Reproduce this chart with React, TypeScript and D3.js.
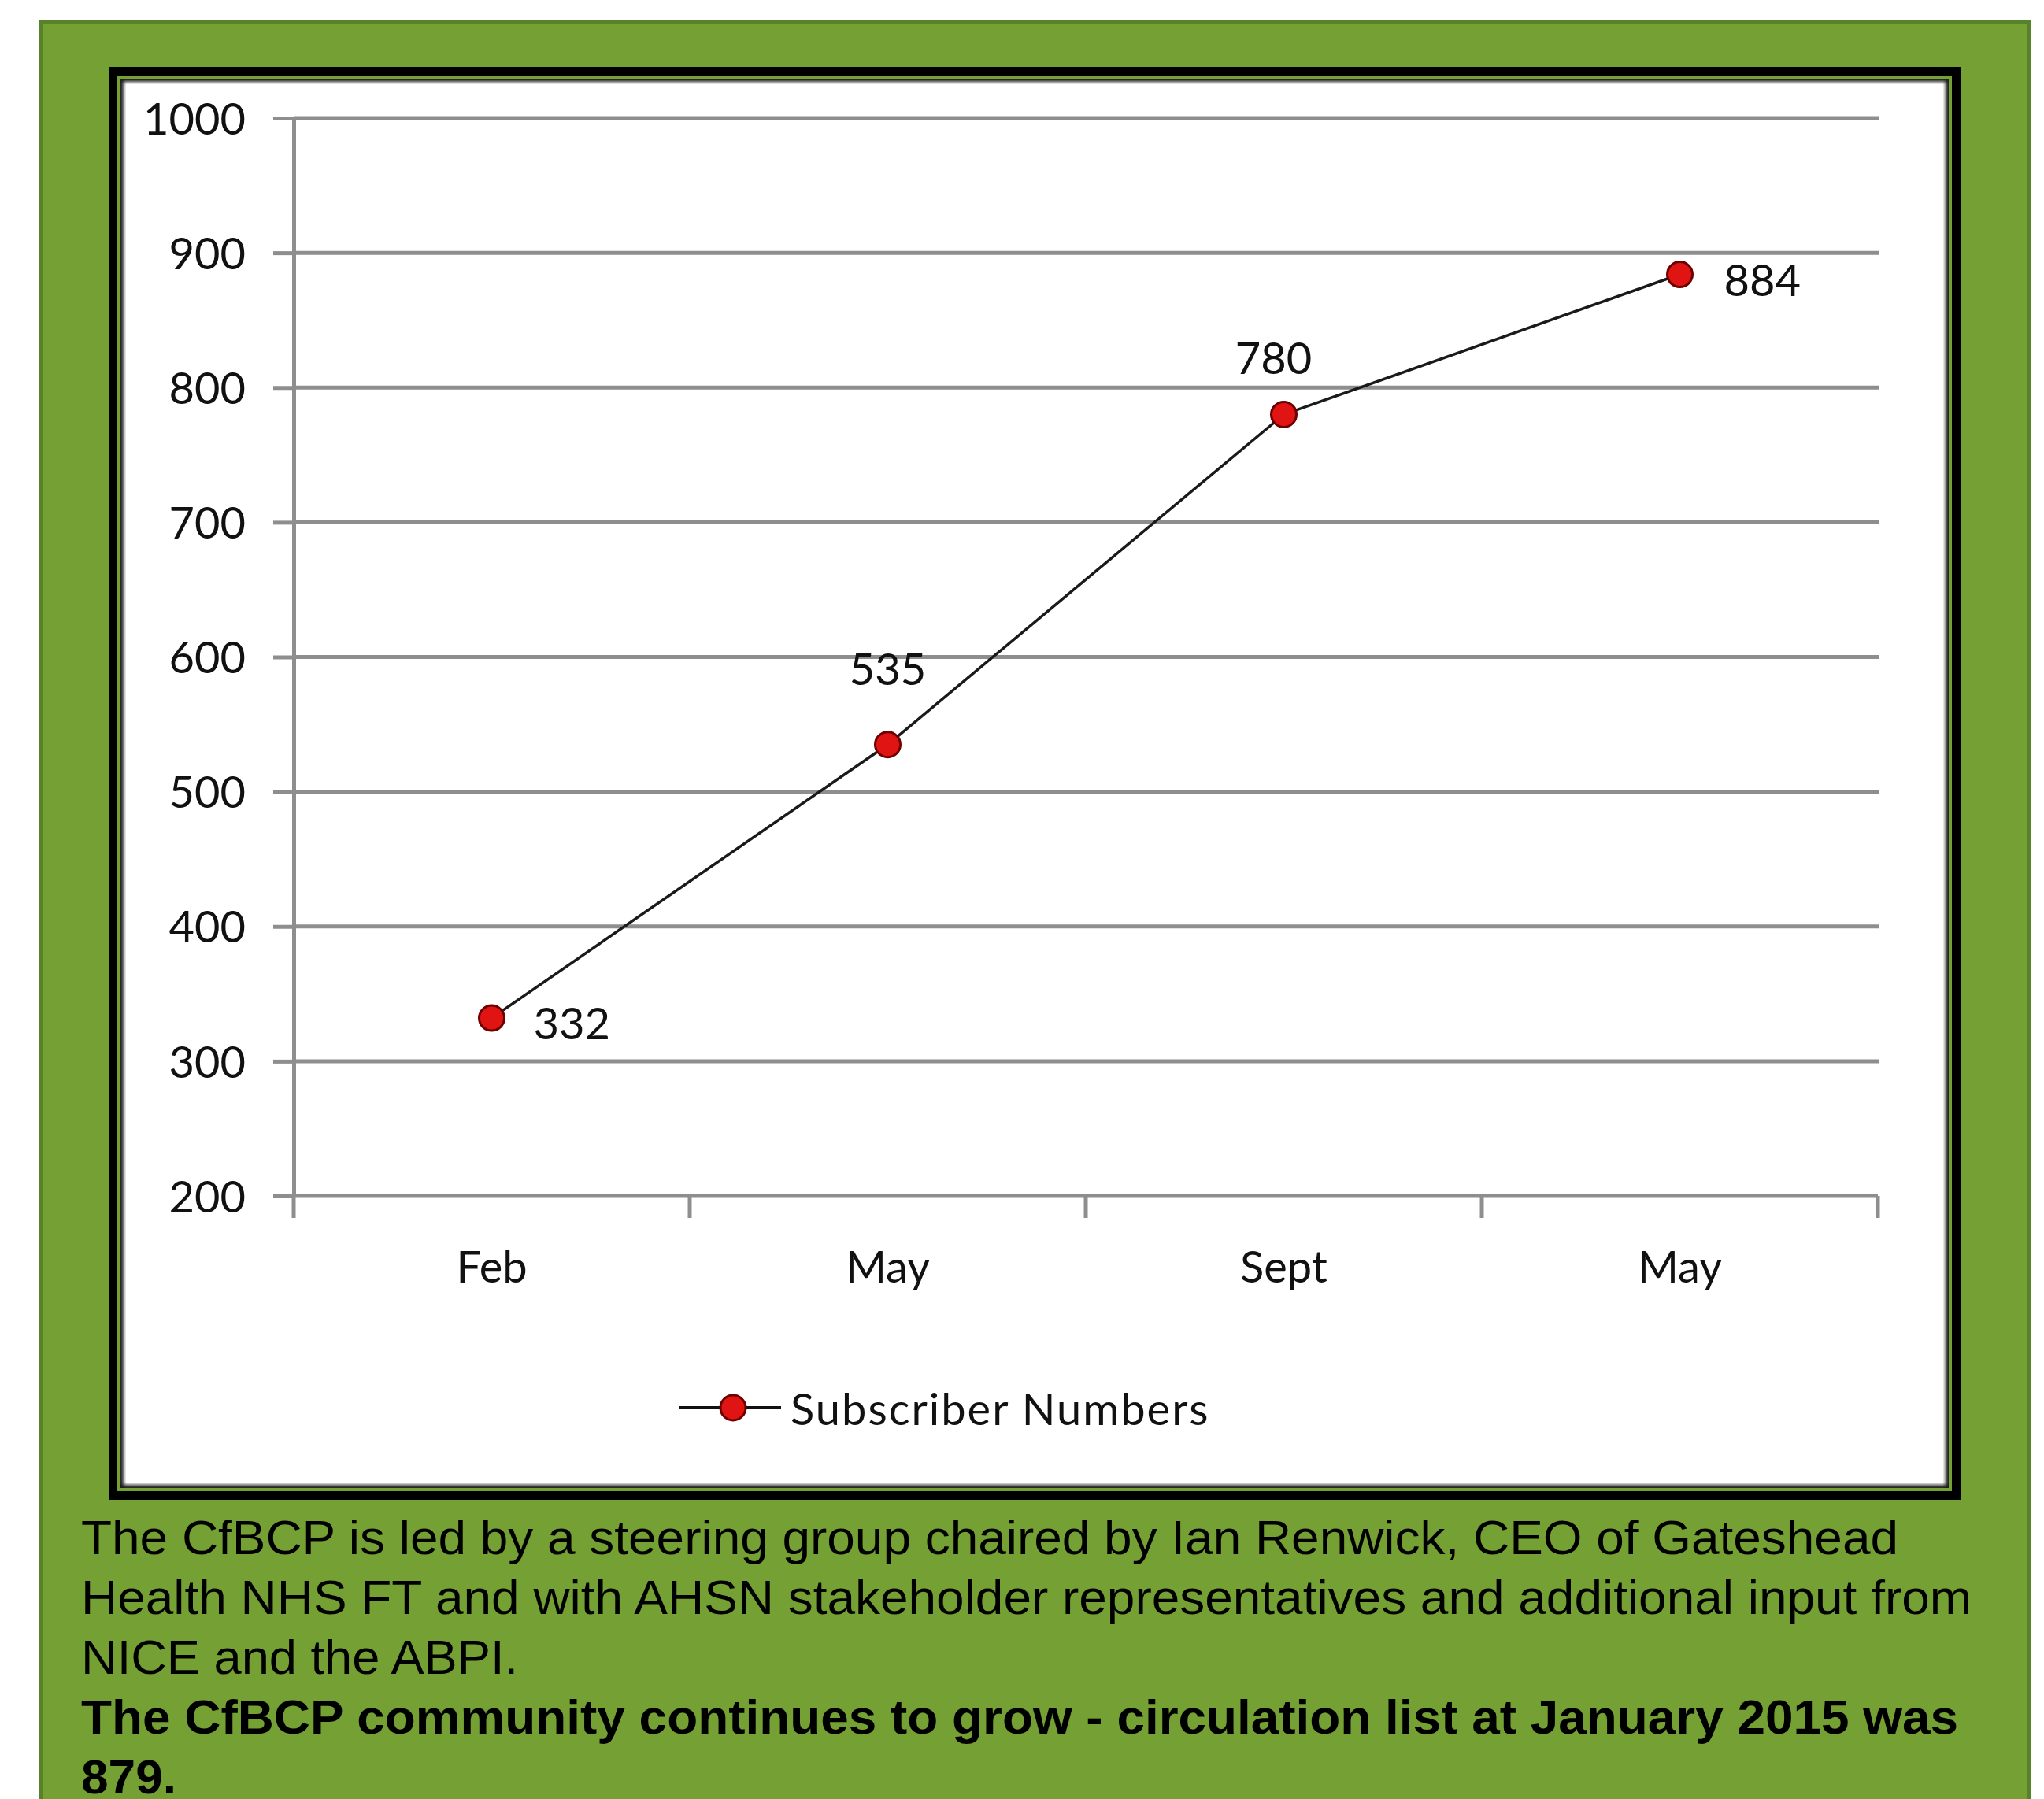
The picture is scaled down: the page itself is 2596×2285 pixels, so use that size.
import React, { useEffect, useRef } from 'react'
import * as d3 from 'd3'

// chart values
const categories = ['Feb', 'May', 'Sept', 'May']
const subscribers = [332, 535, 780, 884]
const yTicks = [200, 300, 400, 500, 600, 700, 800, 900, 1000]
const seriesName = 'Subscriber Numbers'
const labelSides = ['right', 'above', 'above', 'right']

// caption under the chart
const noteLines = [
  'The CfBCP is led by a steering group chaired by Ian Renwick, CEO of Gateshead',
  'Health NHS FT and with AHSN stakeholder representatives and additional input from',
  'NICE and the ABPI.',
]
const boldLines = [
  'The CfBCP community continues to grow - circulation list at January 2015 was',
  '879.',
]

const W = 2596
const H = 2285
const GREEN = '#75a034'
const GRID = '#8e8e8e'

const App: React.FC = () => {
  const svgRef = useRef<SVGSVGElement>(null)

  useEffect(() => {
    const svg = d3.select(svgRef.current)
    svg.selectAll('*').remove()

    const defs = svg.append('defs')
    defs.append('filter').attr('id', 'soft')
      .append('feGaussianBlur').attr('stdDeviation', 2)

    // page panel
    svg.append('rect')
      .attr('x', 51.5).attr('y', 28.5)
      .attr('width', 2525).attr('height', H)
      .attr('fill', GREEN)
      .attr('stroke', '#57822a').attr('stroke-width', 5)

    // chart frame: black, green line, dark line, white
    svg.append('rect').attr('x', 138).attr('y', 85).attr('width', 2352).attr('height', 1820).attr('fill', '#000')
    svg.append('rect').attr('x', 149).attr('y', 96).attr('width', 2330).attr('height', 1798).attr('fill', GREEN)
    svg.append('rect').attr('x', 153).attr('y', 100).attr('width', 2322).attr('height', 1790).attr('fill', '#1c1c1c')
    svg.append('rect').attr('x', 157).attr('y', 104).attr('width', 2314).attr('height', 1782)
      .attr('fill', '#fff').attr('filter', 'url(#soft)')
    svg.append('rect').attr('x', 160).attr('y', 107).attr('width', 2308).attr('height', 1776).attr('fill', '#fff')

    const plot = { left: 373, right: 2385, top: 150, bottom: 1519 }

    const x = d3.scaleBand<number>()
      .domain(categories.map((_, i) => i))
      .range([plot.left, plot.right])
      .padding(0)

    const y = d3.scaleLinear()
      .domain([200, 1000])
      .range([plot.bottom, plot.top])

    const cx = (i: number) => (x(i) as number) + x.bandwidth() / 2

    const font = 'Lato, "Noto Sans", sans-serif'

    // gridlines
    svg.append('g')
      .selectAll('line')
      .data(yTicks.filter(t => t > 200))
      .enter().append('line')
      .attr('x1', plot.left).attr('x2', plot.right + 2)
      .attr('y1', d => y(d)).attr('y2', d => y(d))
      .attr('stroke', GRID).attr('stroke-width', 5)

    // y axis
    const yAxis = svg.append('g')
      .attr('transform', `translate(${plot.left},0)`)
      .call(d3.axisLeft(y).tickValues(yTicks).tickFormat(d3.format('d')).tickSize(26).tickSizeOuter(0).tickPadding(35))
    yAxis.select('.domain').attr('stroke', GRID).attr('stroke-width', 5)
    yAxis.selectAll('.tick line').attr('stroke', GRID).attr('stroke-width', 5)
    yAxis.selectAll('.tick text')
      .attr('font-family', font).attr('font-size', 56).attr('fill', '#111')
      .attr('dy', '0.36em')

    // x axis
    const xAxis = svg.append('g')
      .attr('transform', `translate(0,${plot.bottom})`)
      .call(d3.axisBottom(x).tickSize(0).tickSizeOuter(0).tickFormat(() => ''))
    xAxis.select('.domain').attr('stroke', GRID).attr('stroke-width', 5)
      .attr('d', `M${plot.left - 26},0H${plot.right}`)
    xAxis.selectAll('.tick').remove()

    const bounds = [...categories.map((_, i) => x(i) as number), plot.right]
    svg.append('g')
      .selectAll('line')
      .data(bounds)
      .enter().append('line')
      .attr('x1', d => d).attr('x2', d => d)
      .attr('y1', plot.bottom).attr('y2', plot.bottom + 28)
      .attr('stroke', GRID).attr('stroke-width', 5)

    svg.append('g')
      .selectAll('text')
      .data(categories)
      .enter().append('text')
      .attr('x', (_, i) => cx(i))
      .attr('y', plot.bottom + 110)
      .attr('text-anchor', 'middle')
      .attr('font-family', font).attr('font-size', 56).attr('fill', '#111')
      .text(d => d)

    // series line
    const line = d3.line<number>()
      .x((_, i) => cx(i))
      .y(d => y(d))

    svg.append('path')
      .datum(subscribers)
      .attr('fill', 'none')
      .attr('stroke', '#1a1a1a')
      .attr('stroke-width', 3.5)
      .attr('d', line)

    svg.append('g')
      .selectAll('circle')
      .data(subscribers)
      .enter().append('circle')
      .attr('cx', (_, i) => cx(i))
      .attr('cy', d => y(d))
      .attr('r', 16)
      .attr('fill', '#e11414')
      .attr('stroke', '#6e0000')
      .attr('stroke-width', 3)

    // data labels
    const spot = {
      right: { dx: 53, dy: 27, anchor: 'start' },
      above: { dx: 0, dy: -76, anchor: 'middle' },
    } as Record<string, { dx: number; dy: number; anchor: string }>
    const nudges = [[0, 0], [0, 0], [-13, 25], [3, 0]]

    svg.append('g')
      .selectAll('text')
      .data(subscribers)
      .enter().append('text')
      .attr('x', (_, i) => cx(i) + spot[labelSides[i]].dx + nudges[i][0])
      .attr('y', (d, i) => y(d) + spot[labelSides[i]].dy + nudges[i][1])
      .attr('text-anchor', (_, i) => spot[labelSides[i]].anchor)
      .attr('font-family', font).attr('font-size', 56).attr('fill', '#111')
      .text(d => String(d))

    // legend
    const legend = svg.append('g').attr('transform', 'translate(863,1788)')
    legend.append('line')
      .attr('x1', 0).attr('x2', 129).attr('y1', 0).attr('y2', 0)
      .attr('stroke', '#111').attr('stroke-width', 4)
    legend.append('circle')
      .attr('cx', 68).attr('cy', 0).attr('r', 16)
      .attr('fill', '#e11414').attr('stroke', '#6e0000').attr('stroke-width', 3)
    legend.append('text')
      .attr('x', 141).attr('y', 22)
      .attr('font-family', font).attr('font-size', 56).attr('fill', '#111')
      .attr('letter-spacing', 2)
      .text(seriesName)

    // caption
    const capFont = '"Liberation Sans", Arial, sans-serif'
    const lineEnds = [2411, 2504, 658, 2487, 224]
    const caption = [...noteLines.map(t => ({ t, bold: false })), ...boldLines.map(t => ({ t, bold: true }))]
    svg.append('g')
      .selectAll('text')
      .data(caption)
      .enter().append('text')
      .attr('x', 103)
      .attr('y', (_, i) => 1974 + i * 76)
      .attr('font-family', capFont)
      .attr('font-size', 62)
      .attr('font-weight', d => (d.bold ? 700 : 400))
      .attr('fill', '#000')
      .attr('textLength', (_, i) => lineEnds[i] - 103)
      .attr('lengthAdjust', 'spacingAndGlyphs')
      .text(d => d.t)
  }, [])

  return (
    <svg
      ref={svgRef}
      width={W}
      height={H}
      style={{ position: 'absolute', left: 0, top: 0, display: 'block', background: '#fff' }}
    />
  )
}

export default App
